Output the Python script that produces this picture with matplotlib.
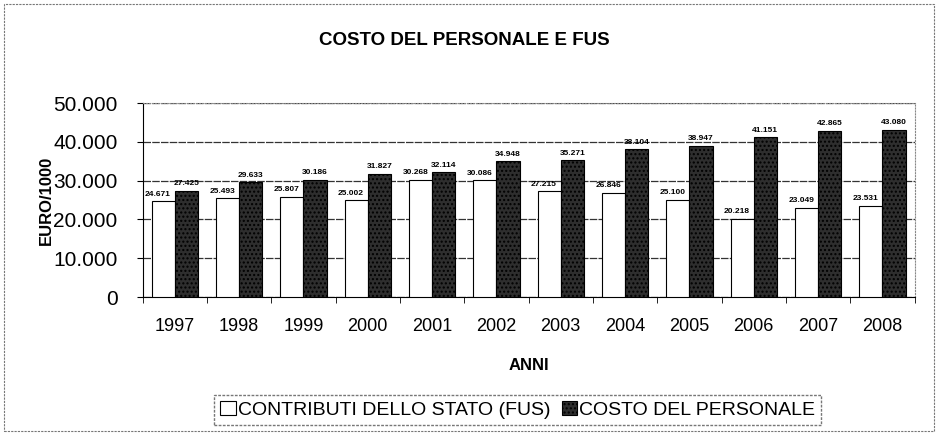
import matplotlib.pyplot as plt
import numpy as np
from matplotlib.patches import Rectangle

plt.rcParams["font.family"] = ["Liberation Sans", "DejaVu Sans"]
plt.rcParams["hatch.color"] = "#6a6a6a"

# values in EURO/1000
anni = ["1997", "1998", "1999", "2000", "2001", "2002",
        "2003", "2004", "2005", "2006", "2007", "2008"]
fus = [24671, 25493, 25807, 25002, 30268, 30086,
       27215, 26846, 25100, 20218, 23049, 23531]
personale = [27425, 29633, 30186, 31827, 32114, 34948,
             35271, 38104, 38947, 41151, 42865, 43080]


def fmt(v):
    return f"{v:,.0f}".replace(",", ".")


fig = plt.figure(figsize=(9.38, 4.33), dpi=100)
ax = fig.add_axes([0.152, 0.314, 0.823, 0.448])

x = np.arange(len(anni))
w = 0.36
b1 = ax.bar(x - w / 2, fus, w, color="white", edgecolor="black", linewidth=0.8,
            label="CONTRIBUTI DELLO STATO (FUS)", zorder=3)
b2 = ax.bar(x + w / 2, personale, w, color="#2e2e2e", edgecolor="black", linewidth=0.8,
            hatch="....", label="COSTO DEL PERSONALE", zorder=3)

for xi, v in zip(x, fus):
    ax.text(xi - w / 2 - 0.08, v + 900, fmt(v), ha="center", va="bottom",
            fontsize=6, fontweight="bold")
for xi, v in zip(x, personale):
    ax.text(xi + w / 2, v + 900, fmt(v), ha="center", va="bottom",
            fontsize=6, fontweight="bold")

ax.set_xlim(-0.5, len(anni) - 0.5)
ax.set_ylim(0, 50000)
ax.set_yticks(range(0, 50001, 10000))
ax.set_yticklabels([fmt(t) for t in range(0, 50001, 10000)], fontsize=15)
ax.set_xticks(x)
ax.set_xticklabels(anni, fontsize=13)
ax.set_xticks(np.arange(-0.5, len(anni), 1), minor=True)
ax.tick_params(axis="x", which="major", length=0, pad=15)
ax.tick_params(axis="x", which="minor", length=4, direction="out")
ax.tick_params(axis="y", length=4, pad=14)

ax.grid(axis="y", color="#333333", linestyle=(0, (6, 1)), linewidth=0.9, zorder=0)
for s in ["top", "right"]:
    ax.spines[s].set_linestyle(":")
    ax.spines[s].set_color("#888888")
ax.spines["left"].set_linestyle((0, (2, 1)))
ax.spines["bottom"].set_linestyle((0, (2, 1)))

ax.set_xlabel("ANNI", fontsize=12, fontweight="bold", labelpad=17)
ax.set_ylabel("EURO/1000", fontsize=12, fontweight="bold")
ax.yaxis.set_label_coords(-0.115, 0.5)

fig.text(0.495, 0.907, "COSTO DEL PERSONALE E FUS", ha="center", va="center",
         fontsize=13.5, fontweight="bold")

leg = fig.legend(handles=[b1, b2], loc="center", bbox_to_anchor=(0.552, 0.053),
                 ncol=2, fontsize=14, frameon=True, fancybox=False,
                 handlelength=0.8, handletextpad=0.1, columnspacing=0.6,
                 borderpad=0.3)
leg.get_frame().set_edgecolor("#555555")
leg.get_frame().set_linestyle((0, (2, 1)))

fig.patches.append(Rectangle((0.004, 0.005), 0.992, 0.985, transform=fig.transFigure,
                             fill=False, edgecolor="#777777", linestyle=(0, (2, 1)),
                             linewidth=0.8))

fig.savefig("out.png", dpi=100)
